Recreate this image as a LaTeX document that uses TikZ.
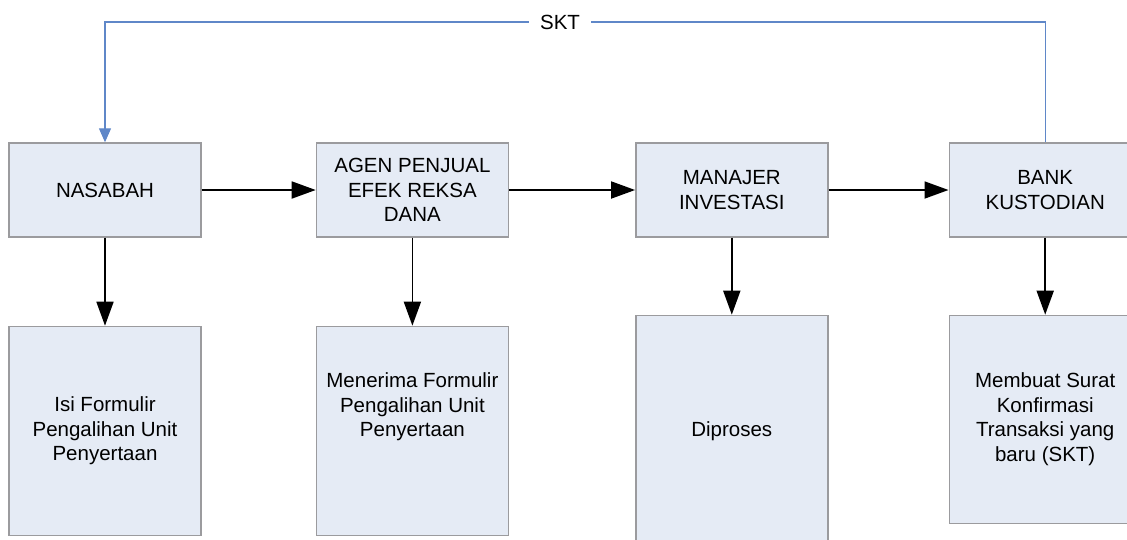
\documentclass[tikz,border=0pt]{standalone}
\usepackage{fontspec}
\setmainfont{Liberation Sans}
\usepackage{xcolor}
\usepackage{tikz}
\usetikzlibrary{positioning,arrows.meta}
\definecolor{boxfill}{RGB}{229,235,245}
\definecolor{boxline}{RGB}{155,155,158}
\definecolor{sktblue}{RGB}{95,135,200}

\begin{document}
\begin{tikzpicture}[x=1pt, y=-1pt, font=\fontsize{20.5}{24.5}\selectfont,
    main/.style = {draw=boxline, line width=1.4pt, fill=boxfill, minimum width=192pt, align=center, inner sep=2pt},
    flow/.style = {line width=1.8pt, -{Triangle[length=24pt, width=17pt]}},
    sktline/.style = {sktblue, line width=1.2pt, -{Triangle[length=14pt, width=12pt]}}]
      \useasboundingbox (0,0) rectangle (1127,539);

      \node[main, minimum height=94pt] (1) at (105,190) {NASABAH};
      \node[main, minimum height=94pt] (2) [right=114pt of 1] {AGEN PENJUAL\\EFEK REKSA\\DANA};
      \node[main, minimum height=94pt] (3) [right=126pt of 2] {MANAJER\\INVESTASI};
      \node[main, minimum height=94pt] (4) [right=120pt of 3] {BANK\\KUSTODIAN};

      \node[main, minimum height=209pt] (5) [below=88pt of 1] {Isi Formulir\\Pengalihan Unit\\Penyertaan};
      \node[main, minimum height=209pt] (6) [below=88pt of 2] {Menerima Formulir\\Pengalihan Unit\\Penyertaan\\[28pt]\mbox{}};
      \node[main, minimum height=231pt] (7) [below=77pt of 3] {Diproses};
      \node[main, minimum height=208pt] (8) [below=77pt of 4] {Membuat Surat\\Konfirmasi\\Transaksi yang\\baru (SKT)};

      \draw[flow] (1) -- (2);
      \draw[flow] (2) -- (3);
      \draw[flow] (3) -- (4);
      \draw[flow] (1) -- (5);
      \draw[flow] (2) -- (6);
      \draw[flow] (3) -- (7);
      \draw[flow] (4) -- (8);

      % SKT goes back to the customer
      \coordinate (top) at (558,22);
      \draw[sktline] (4.north) -- (4.north |- top) -- node[pos=0.516, fill=white, text=black, inner xsep=11pt, inner ysep=1pt] {SKT} (1.north |- top) -- (1.north);
    \end{tikzpicture}
\end{document}
